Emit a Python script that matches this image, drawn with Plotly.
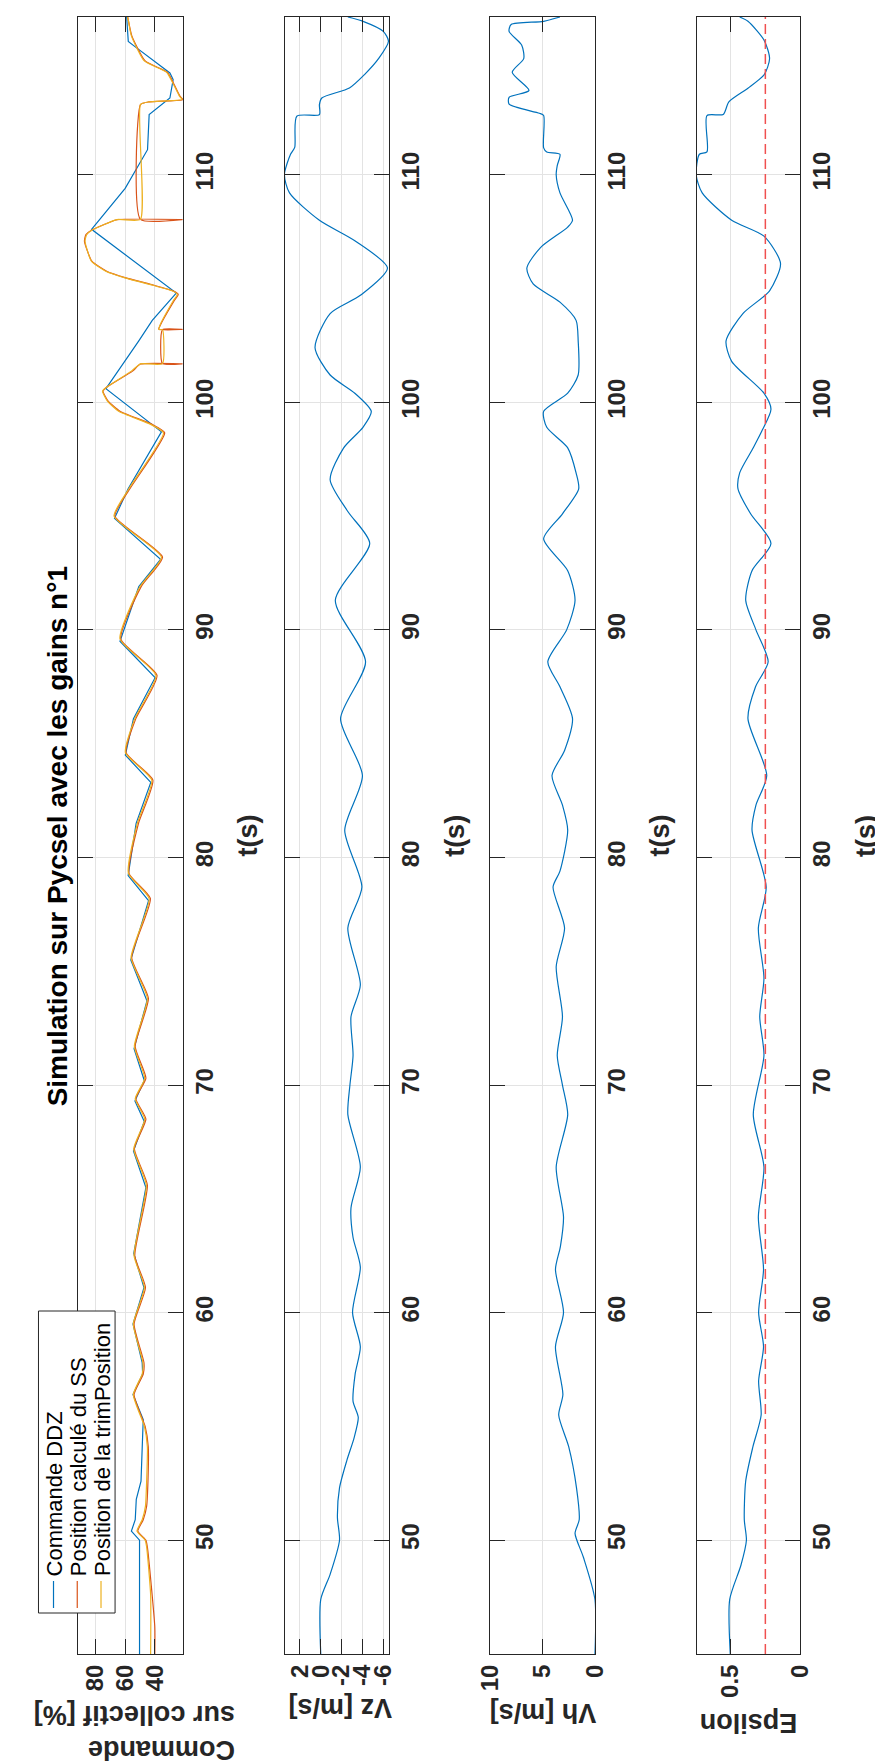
import plotly.graph_objects as go

TITLE = "Simulation sur Pycsel avec les gains n°1"
SERIES_NAMES = ["Commande DDZ", "Position calculé du SS", "Position de la trimPosition"]
COLORS = ["#0072BD", "#D95319", "#EDB120"]
PANEL_LABELS = ["Commande<br>sur collectif [%]", "Vz [m/s]", "Vh [m/s]", "Epsilon"]
T_LABEL = "t(s)"
T_TICKS = [50, 60, 70, 80, 90, 100, 110]
T_MIN, T_MAX = 45.0, 116.93

CMD_TICKS = [40, 60, 80]
VZ_TICKS = [-6, -4, -2, 0, 2]
VH_TICKS = [0, 5, 10]
EPS_TICKS = [0, 0.5]
CMD_RANGE = [91.7, 21.0]
VZ_RANGE = [3.46, -6.59]
VH_RANGE = [10.0, 0.0]
EPS_RANGE = [0.739, 0.0]

# Commande DDZ
T_DDZ = [45.0, 50.0, 50.4, 50.9, 51.8, 52.6, 54.6, 55.3, 56.4, 57.3, 57.8, 59.5, 61.1, 62.6,
         65.5, 67.1, 68.4, 69.3, 70.2, 71.6, 73.7, 75.5, 78.1, 79.2, 81.5, 83.3, 84.5, 86.1,
         87.9, 89.5, 91.9, 93.1, 94.9, 96.2, 98.7, 100.6, 102.7, 103.6, 104.8, 107.6, 109.4,
         110.6, 111.1, 112.64, 113.15, 113.37, 114.18, 114.47, 115.64, 115.86, 116.93]
V_DDZ = [50.3, 50.3, 55.8, 53.2, 52.5, 49.3, 48.2, 47.8, 54.7, 48.2, 48.5, 54.7, 47.3, 54.2,
         46.0, 54.4, 47.1, 53.4, 47.1, 54.0, 45.3, 56.2, 44.2, 58.0, 52.6, 42.7, 59.9, 54.4,
         39.8, 63.5, 50.8, 36.1, 67.2, 58.0, 35.5, 73.0, 50.8, 41.7, 25.5, 82.7, 60.0,
         49.3, 44.9, 43.8, 34.1, 29.8, 27.6, 29.8, 53.6, 57.9, 59.0]

# Position calculé du SS
T_SS = [45.0, 46.2, 49.7, 50.0, 50.4, 50.9, 51.5, 52.6, 54.1, 55.0, 56.4, 57.3, 57.8, 59.5,
        61.1, 62.5, 65.6, 67.2, 68.5, 69.4, 70.3, 71.7, 73.8, 75.6, 78.2, 79.3, 81.5, 83.4,
        84.6, 86.1, 88.0, 89.6, 91.9, 93.2, 95.0, 96.2, 98.66, 99.03, 99.61, 100.05, 100.49,
        100.64, 101.37, 101.68, 101.69, 101.70, 103.19, 103.20, 103.21, 103.42, 104.45, 104.74,
        104.88, 105.17, 105.47, 105.76, 106.2, 107.08, 107.37, 107.55, 108.02, 108.03, 108.04,
        113.08, 113.2, 113.3, 113.45, 114.0, 114.5, 115.0, 116.1, 116.8, 116.93]
V_SS = [40.0, 40.0, 45.0, 46.0, 51.5, 47.8, 45.5, 44.6, 44.4, 46.5, 54.0, 47.8, 47.3, 54.0,
        46.3, 53.5, 45.0, 53.8, 46.0, 52.8, 46.0, 53.3, 44.3, 55.6, 43.0, 57.4, 51.0, 41.3,
        59.4, 52.8, 38.5, 63.0, 49.2, 34.8, 67.0, 56.8, 33.3, 41.8, 63.5, 71.5, 75.0,
        73.0, 55.0, 49.7, 21.5, 34.8, 34.8, 21.5, 37.3, 36.0, 27.0, 24.2,
        27.0, 42.0, 59.5, 72.5, 82.5, 87.5, 86.5, 83.0, 65.5, 21.5, 49.7,
        49.7, 44.0, 21.0, 23.0, 27.2, 31.5, 46.5, 55.5, 57.9, 58.3]

# Position de la trimPosition
T_TRIM = [45.0, 47.6, 49.7, 50.0, 50.4, 50.9, 51.5, 52.6, 54.1, 55.0, 56.4, 57.3, 57.8, 59.5,
          61.1, 62.5, 65.6, 67.2, 68.5, 69.4, 70.3, 71.7, 73.8, 75.6, 78.2, 79.3, 81.5, 83.4,
          84.6, 86.1, 88.0, 89.6, 91.9, 93.2, 95.0, 96.2, 98.66, 99.03, 99.61, 100.05, 100.49,
          100.64, 101.37, 101.69, 101.70, 103.19, 103.20, 103.42, 104.45, 104.74, 104.88,
          105.17, 105.47, 105.76, 106.2, 107.08, 107.37, 107.55, 108.03, 108.04, 113.08,
          113.2, 113.3, 113.45, 114.0, 114.5, 115.0, 116.1, 116.8, 116.93]
V_TRIM = [42.8, 42.8, 45.5, 46.5, 52.0, 48.5, 46.3, 45.5, 45.0, 47.0, 54.5, 48.5, 48.0, 54.5,
          47.0, 54.0, 45.7, 54.2, 46.8, 53.2, 46.8, 53.8, 45.0, 56.0, 43.8, 57.8, 51.8, 42.0,
          59.8, 53.5, 39.2, 63.5, 50.0, 35.5, 67.5, 57.5, 34.1, 42.8, 64.4, 72.0, 75.3,
          73.1, 55.8, 49.7, 34.8, 34.8, 37.3, 36.3, 27.6, 24.8, 27.6,
          42.8, 60.1, 73.1, 82.8, 87.1, 86.0, 82.8, 65.5, 49.7, 49.7,
          44.0, 21.5, 23.3, 27.6, 32.0, 47.1, 55.8, 57.9, 58.3]

# Vz [m/s]
T_VZ = [45.0, 47.4, 48.5, 50.0, 51.0, 52.3, 53.5, 54.5, 55.4, 56.1, 57.3, 58.5, 60.0, 62.0,
        63.3, 64.6, 66.4, 68.7, 70.0, 71.3, 73.0, 74.4, 76.9, 78.7, 81.2, 83.6, 86.1, 88.6,
        91.3, 93.8, 95.2, 96.6, 98.0, 98.9, 99.6, 100.4, 101.2, 102.4, 103.9, 104.7, 105.9,
        107.1, 108.0, 109.2, 110.0, 110.9, 111.2, 112.57, 112.64, 113.08, 113.37, 113.81,
        114.4, 115.13, 115.86, 116.3, 116.74, 116.93]
V_VZ = [0.0, 0.0, -0.9, -1.8, -1.6, -1.8, -2.5, -3.2, -3.6, -3.1, -3.3, -3.8, -3.05, -3.8,
        -3.1, -2.9, -3.8, -2.6, -2.8, -3.1, -2.9, -3.8, -2.6, -3.95, -2.3, -4.0, -1.9, -4.3,
        -1.4, -4.7, -2.6, -0.9, -2.2, -4.05, -4.85, -3.27, -0.9, 0.55, -0.9, -3.8, -6.4,
        -3.27, 0.13, 3.0, 3.49, 2.9, 2.5, 2.3, 0.13, 0.13, -0.1, -2.75,
        -4.2, -5.6, -6.5, -6.0, -4.06, -2.6]

# Vh [m/s]
T_VH = [45.0, 47.4, 49.25, 50.3, 50.9, 52.3, 54.1, 55.5, 56.4, 58.5, 60.0, 61.9, 62.9, 64.2,
        66.4, 68.7, 70.0, 71.3, 73.0, 75.2, 76.9, 78.7, 79.4, 81.2, 82.3, 83.6, 84.7, 86.1,
        87.5, 88.6, 90.0, 91.3, 92.6, 94.0, 95.1, 96.2, 96.9, 98.0, 98.9, 99.6, 100.4, 101.2,
        102.7, 103.6, 104.4, 105.2, 105.9, 106.8, 107.7, 108.0, 109.2, 110.0, 110.4, 110.9,
        111.0, 111.18, 112.6, 112.7, 113.1, 113.4, 113.7, 114.5, 115.1, 115.7, 116.3, 116.6,
        116.74, 116.93]
V_VH = [0.0, 0.0, 1.1, 1.9, 1.5, 1.76, 2.5, 3.46, 3.06, 3.77, 3.0, 3.77, 3.3, 3.0,
        3.7, 2.6, 3.1, 3.6, 3.1, 3.7, 2.9, 4.0, 3.34, 2.6, 3.1, 4.1, 2.9, 2.14,
        3.34, 4.5, 2.7, 1.9, 2.6, 4.9, 3.1, 1.55, 1.8, 2.6, 4.6, 4.9, 2.6, 1.6,
        1.6, 1.8, 3.34, 5.9, 6.5, 5.2, 2.6, 2.14, 3.34, 3.7, 3.6, 3.34,
        4.6, 4.9, 4.9, 5.3, 8.2, 8.2, 6.3, 7.9, 6.8, 7.0, 8.2, 8.0,
        4.9, 3.34]

# Epsilon
T_EPS = [45.0, 47.4, 48.9, 50.0, 50.9, 52.6, 54.1, 55.5, 57.0, 58.5, 60.0, 61.9, 64.2, 66.4,
         68.7, 71.3, 73.0, 74.7, 76.9, 78.7, 81.2, 82.3, 83.6, 86.1, 87.5, 88.6, 90.0, 91.3,
         92.6, 93.8, 95.1, 96.2, 96.9, 98.0, 98.8, 99.7, 100.4, 101.8, 102.7, 103.9, 104.9,
         106.1, 107.3, 108.0, 109.2, 110.0, 110.9, 111.0, 112.6, 112.65, 113.2, 113.8, 114.4,
         115.1, 115.9, 116.74, 116.93]
V_EPS = [0.5, 0.504, 0.424, 0.385, 0.40, 0.39, 0.339, 0.28, 0.298, 0.263, 0.298, 0.263, 0.30, 0.26,
         0.336, 0.26, 0.29, 0.26, 0.30, 0.244, 0.345, 0.317, 0.24, 0.374, 0.32, 0.23, 0.317, 0.39,
         0.345, 0.21, 0.355, 0.445, 0.433, 0.336, 0.27, 0.21, 0.26, 0.49, 0.53, 0.41, 0.22,
         0.142, 0.26, 0.49, 0.70, 0.743, 0.72, 0.666, 0.666, 0.55, 0.51, 0.374, 0.258,
         0.22, 0.258, 0.374, 0.433]
EPS_THRESHOLD = 0.25

# ---------------- layout helpers ----------------
W, H = 883, 1762
PANELS = [(58, 166), (271, 379), (483, 591), (696, 803)]
TOP, BOTTOM = 9, 1646
FONT = "Liberation Sans, Arial, sans-serif"
INK = "#262626"


def px(x):
    return x / W


def py(y):
    return 1 - y / H


fig = go.Figure()

# Panel 1 traces
fig.add_trace(go.Scatter(x=V_DDZ, y=T_DDZ, mode="lines", name=SERIES_NAMES[0],
                         line=dict(color=COLORS[0], width=1.2), xaxis="x", yaxis="y"))
fig.add_trace(go.Scatter(x=V_SS, y=T_SS, mode="lines", name=SERIES_NAMES[1],
                         line=dict(color=COLORS[1], width=1.2, shape="spline", smoothing=0.5),
                         xaxis="x", yaxis="y"))
fig.add_trace(go.Scatter(x=V_TRIM, y=T_TRIM, mode="lines", name=SERIES_NAMES[2],
                         line=dict(color=COLORS[2], width=1.2, shape="spline", smoothing=0.5),
                         xaxis="x", yaxis="y"))

fig.add_trace(go.Scatter(x=V_VZ, y=T_VZ, mode="lines", line=dict(color=COLORS[0], width=1.2,
                         shape="spline", smoothing=0.7), xaxis="x2", yaxis="y2"))
fig.add_trace(go.Scatter(x=V_VH, y=T_VH, mode="lines", line=dict(color=COLORS[0], width=1.2,
                         shape="spline", smoothing=0.7), xaxis="x3", yaxis="y3"))
fig.add_trace(go.Scatter(x=V_EPS, y=T_EPS, mode="lines", line=dict(color=COLORS[0], width=1.2,
                         shape="spline", smoothing=0.7), xaxis="x4", yaxis="y4"))
fig.add_trace(go.Scatter(x=[EPS_THRESHOLD, EPS_THRESHOLD], y=[T_MIN, T_MAX], mode="lines",
                         line=dict(color="#F05050", width=1.5, dash="10px,5px"),
                         xaxis="x4", yaxis="y4"))

ranges = [CMD_RANGE, VZ_RANGE, VH_RANGE, EPS_RANGE]
ticks = [CMD_TICKS, VZ_TICKS, VH_TICKS, EPS_TICKS]
tick_text = [[str(v) for v in CMD_TICKS], [str(v) for v in VZ_TICKS],
             [str(v) for v in VH_TICKS], ["0", "0.5"]]

axis_common = dict(showline=True, linecolor=INK, linewidth=1, mirror="ticks",
                   ticks="inside", ticklen=15, tickwidth=1, tickcolor=INK,
                   showgrid=True, gridcolor="#E3E3E3", gridwidth=1, zeroline=False,
                   tickfont=dict(family=FONT, size=24, color=INK, weight="bold"))

layout = dict(width=W, height=H, autosize=False,
              margin=dict(l=0, r=0, t=0, b=0),
              paper_bgcolor="white", plot_bgcolor="white", showlegend=False)

for i, (x0, x1) in enumerate(PANELS):
    k = "" if i == 0 else str(i + 1)
    layout["xaxis" + k] = dict(domain=[px(x0), px(x1)], range=ranges[i], anchor="y" + k,
                               side="bottom", tickvals=ticks[i], ticktext=tick_text[i],
                               tickangle=-90, **axis_common)
    layout["yaxis" + k] = dict(domain=[py(BOTTOM), py(TOP)], range=[T_MIN, T_MAX],
                               anchor="x" + k, side="right", tickvals=T_TICKS,
                               tickangle=-90, **axis_common)

fig.update_layout(**layout)

ann = []
ann.append(dict(x=px(37.5), y=py(828), xref="paper", yref="paper", text="<b>" + TITLE + "</b>",
                textangle=-90, showarrow=False, xanchor="center", yanchor="middle",
                font=dict(family=FONT, size=28, color="black")))
for (x0, x1) in PANELS:
    ann.append(dict(x=px(x1 + 67), y=py(827.5), xref="paper", yref="paper",
                    text="<b>" + T_LABEL + "</b>", textangle=-90, showarrow=False,
                    xanchor="center", yanchor="middle",
                    font=dict(family=FONT, size=27, color=INK)))
label_pos = [(116, 1725), (328, 1700), (537, 1705), (749, 1715)]
for lab, (lx, ly) in zip(PANEL_LABELS, label_pos):
    ann.append(dict(x=px(lx), y=py(ly), xref="paper", yref="paper", text="<b>" + lab + "</b>",
                    textangle=180, showarrow=False, xanchor="center", yanchor="middle",
                    align="left", font=dict(family=FONT, size=27, color=INK)))

shapes = [dict(type="rect", xref="paper", yref="paper", x0=px(17), x1=px(96), y0=py(1605),
               y1=py(1303), fillcolor="white", line=dict(color=INK, width=1), layer="above")]
leg_x = [32.5, 57, 81.5]
for name, col, lx in zip(SERIES_NAMES, COLORS, leg_x):
    shapes.append(dict(type="line", xref="paper", yref="paper", x0=px(lx), x1=px(lx),
                       y0=py(1600), y1=py(1573), line=dict(color=col, width=1.2), layer="above"))
    ann.append(dict(x=px(lx + 1.5), y=py(1570), xref="paper", yref="paper", text=name,
                    textangle=-90, showarrow=False, xanchor="center", yanchor="bottom",
                    font=dict(family=FONT, size=22, color="black")))

fig.update_layout(annotations=ann, shapes=shapes)
fig.write_html("out.html")
